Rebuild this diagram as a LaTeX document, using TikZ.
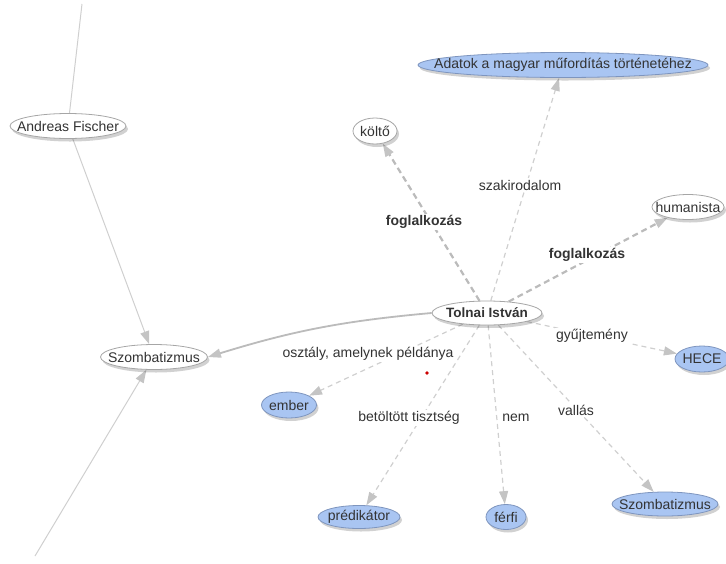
\documentclass[tikz,border=0pt]{standalone}
\usepackage{fontspec}
\setmainfont{Liberation Sans}
\usetikzlibrary{arrows.meta,shapes.geometric,shadows,backgrounds}
\definecolor{txt}{HTML}{333333}
\definecolor{bluefill}{HTML}{A9C5F2}
\definecolor{blueline}{HTML}{7E95BE}
\definecolor{edge}{HTML}{CFCFCF}
\definecolor{edgedark}{HTML}{BBBBBB}
\definecolor{tipc}{HTML}{C4C4C4}
\newcommand\zw[1]{\makebox[0pt]{#1}}
\tikzset{
  base/.style={ellipse, inner sep=0pt, minimum height=24pt, text=txt, font=\fontsize{14}{16}\selectfont,
    drop shadow={shadow xshift=2pt, shadow yshift=-3pt, opacity=0.18, fill=black}},
  wnode/.style={base, draw=gray!70, fill=white, line width=0.8pt},
  bnode/.style={base, draw=blueline, fill=bluefill, line width=0.8pt},
  lbl/.style={fill=white, text=txt, inner sep=1.5pt, font=\fontsize{14}{16}\selectfont},
  blbl/.style={lbl, font=\fontsize{14}{16}\selectfont\bfseries},
  tip/.style={-{Triangle[length=13pt,width=9pt,fill=tipc,color=tipc]}},
  thin dash/.style={tip, draw=edge, line width=1.2pt, dash pattern=on 5pt off 4pt},
  thick dash/.style={tip, draw=edgedark, line width=2.2pt, dash pattern=on 6pt off 4pt},
  solidline/.style={draw=edge, line width=1pt},
}
\begin{document}
\begin{tikzpicture}[x=1pt,y=-1pt]
\useasboundingbox (0,0) rectangle (726,563);
% nodes
\node[wnode, font=\fontsize{13.5}{16}\selectfont\bfseries, minimum width=110pt] (tol) at (487,313) {\zw{Tolnai István}};
\node[bnode, minimum height=25pt, minimum width=290pt] (adat) at (563,65) {\zw{Adatok a magyar műfordítás történetéhez}};
\node[wnode, minimum height=26pt, minimum width=44pt] (kolto) at (375,131) {\zw{költő}};
\node[wnode, minimum height=25pt, minimum width=72pt] (hum) at (688,207) {\zw{humanista}};
\node[bnode, minimum height=26pt, minimum width=54pt] (hece) at (702,359) {\zw{HECE}};
\node[bnode, minimum height=24pt, minimum width=106pt] (szr) at (665,504) {\zw{Szombatizmus}};
\node[bnode, minimum height=25pt, minimum width=40pt] (ferfi) at (506,517) {\zw{férfi}};
\node[bnode, minimum height=23pt, minimum width=82pt] (pred) at (359,517) {\zw{prédikátor}};
\node[bnode, minimum height=26pt, minimum width=55pt] (ember) at (289,405) {\zw{ember}};
\node[wnode, minimum height=25pt, minimum width=107pt] (szl) at (154,357) {\zw{Szombatizmus}};
\node[wnode, minimum height=25pt, minimum width=116pt] (af) at (68,126) {\zw{Andreas Fischer}};
\coordinate (top) at (82,4);
\coordinate (bot) at (35,556);
% labels
\node[blbl] at (424,222) {foglalkozás};
\node[lbl] at (520,185) {szakirodalom};
\node[blbl] at (587,255) {foglalkozás};
\node[lbl] at (592,336) {gyűjtemény};
\node[lbl] at (576,410) {vallás};
\node[lbl] at (516,418) {nem};
\node[lbl] at (409,418) {betöltött tisztség};
\node[lbl] at (368,354) {osztály, amelynek példánya};
\fill[red!80!black] (427,373) circle (1.8pt);
% edges behind
\begin{scope}[on background layer]
\draw[solidline] (top) -- (af);
\draw[solidline, tip] (af) -- (szl);
\draw[solidline, tip] (bot) -- (szl);
\draw[tip, draw=edgedark, line width=1.8pt] (tol.west) to[bend right=6] (szl.east);
\draw[thick dash] (tol) -- (kolto);
\draw[thin dash] (tol) -- (adat);
\draw[thick dash] (tol) -- (hum);
\draw[thin dash] (tol) -- (hece);
\draw[thin dash] (tol) -- (szr);
\draw[thin dash] (tol) -- (ferfi);
\draw[thin dash] (tol) -- (pred);
\draw[thin dash] (tol) -- (ember);
\end{scope}
\end{tikzpicture}
\end{document}
